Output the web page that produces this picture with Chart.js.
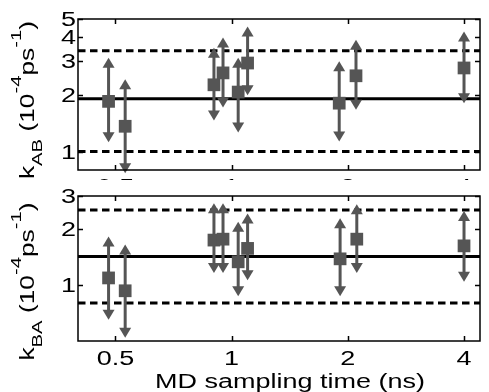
<!DOCTYPE html>
<html>
<head>
<meta charset="utf-8">
<script src="https://cdn.jsdelivr.net/npm/chart.js@4.4.0/dist/chart.umd.min.js"></script>
<style>
  body { margin: 0; background: #fff; }
  #wrap { position: relative; width: 489px; height: 392px; overflow: hidden; background: #fff; }
  canvas { position: absolute; left: 0; }
  #chartAB { top: 0; }
  #chartBA { top: 180px; }
</style>
</head>
<body>
<div id="wrap">
  <canvas id="chartAB" width="489" height="180"></canvas>
  <canvas id="chartBA" width="489" height="212"></canvas>
</div>
<script>
// sampling time (ns) - points of the same time are shifted a little sideways
const timeAB  = [0.48, 0.53, 0.9, 0.95, 1.04, 1.1, 1.9, 2.1, 4.0];
const kAB     = [1.84, 1.36, 2.25, 2.60, 2.06, 2.93, 1.80, 2.51, 2.76];
const kABLow  = [1.12, 0.77, 1.46, 1.71, 1.26, 1.98, 1.13, 1.66, 1.80];
const kABHigh = [3.12, 2.41, 3.53, 4.00, 3.12, 4.57, 2.99, 3.89, 4.30];

const timeBA  = [0.48, 0.53, 0.9, 0.95, 1.04, 1.1, 1.91, 2.11, 4.0];
const kBA     = [1.09, 0.93, 1.74, 1.76, 1.33, 1.57, 1.38, 1.76, 1.62];
const kBALow  = [0.65, 0.52, 1.16, 1.16, 0.87, 1.06, 0.87, 1.16, 1.04];
const kBAHigh = [1.82, 1.65, 2.74, 2.74, 2.18, 2.42, 2.28, 2.71, 2.49];

// reference lines: mean (solid), bounds (dashed)
const meanAB = 1.9;
const boundsAB = [1.0, 3.4];
const meanBA = 1.42;
const boundsBA = [0.8, 2.52];

const xTicks = [0.5, 1, 2, 4];
const yTicksAB = [1, 2, 3, 4, 5];
const yTicksBA = [1, 2, 3];
const xTitle = 'MD sampling time (ns)';

const STRETCH = 1.35;
const FONT = '"Liberation Sans", Arial, Helvetica, sans-serif';
const GREY = '#555555';

function stretchedText(ctx, str, x, y, size, align, baseline) {
  ctx.save();
  ctx.translate(x, y);
  ctx.scale(STRETCH, 1);
  ctx.font = size + 'px ' + FONT;
  ctx.textAlign = align;
  ctx.textBaseline = baseline;
  ctx.fillStyle = '#000';
  ctx.fillText(str, 0, 0);
  ctx.restore();
}

// rotated axis title with sub/superscripts
function richTitle(ctx, parts, baseX, centerY) {
  ctx.save();
  ctx.translate(baseX, centerY);
  ctx.rotate(-Math.PI / 2);
  ctx.scale(STRETCH, 1);
  ctx.fillStyle = '#000';
  ctx.textAlign = 'left';
  ctx.textBaseline = 'alphabetic';
  let total = 0;
  parts.forEach(p => {
    ctx.font = p.size + 'px ' + FONT;
    total += ctx.measureText(p.text).width;
  });
  let x = -total / 2;
  parts.forEach(p => {
    ctx.font = p.size + 'px ' + FONT;
    ctx.fillText(p.text, x, p.shift);
    x += ctx.measureText(p.text).width;
  });
  ctx.restore();
}

const panelPlugin = {
  id: 'panel',
  beforeDatasetsDraw(chart, args, opts) {
    const ctx = chart.ctx;
    const area = chart.chartArea;
    const xs = chart.scales.x, ys = chart.scales.y;

    // reference lines
    ctx.save();
    ctx.beginPath();
    ctx.rect(area.left, area.top, area.right - area.left, area.bottom - area.top);
    ctx.clip();
    ctx.strokeStyle = '#000';
    ctx.lineWidth = 3;
    let py = ys.getPixelForValue(opts.mean);
    ctx.beginPath(); ctx.moveTo(area.left, py); ctx.lineTo(area.right, py); ctx.stroke();
    ctx.setLineDash([7.5, 4.5]);
    opts.bounds.forEach(v => {
      const p = ys.getPixelForValue(v);
      ctx.beginPath(); ctx.moveTo(area.left, p); ctx.lineTo(area.right, p); ctx.stroke();
    });
    ctx.restore();

    // error bars with arrow heads
    ctx.save();
    ctx.strokeStyle = GREY;
    ctx.fillStyle = GREY;
    ctx.lineWidth = 3;
    chart.data.datasets[0].data.forEach(p => {
      const px = xs.getPixelForValue(p.x);
      const top = ys.getPixelForValue(p.hi);
      const bot = ys.getPixelForValue(p.lo);
      ctx.beginPath();
      ctx.moveTo(px, top + 8);
      ctx.lineTo(px, bot - 8);
      ctx.stroke();
      ctx.beginPath();
      ctx.moveTo(px, top); ctx.lineTo(px - 6, top + 10); ctx.lineTo(px + 6, top + 10);
      ctx.closePath(); ctx.fill();
      ctx.beginPath();
      ctx.moveTo(px, bot); ctx.lineTo(px - 6, bot - 10); ctx.lineTo(px + 6, bot - 10);
      ctx.closePath(); ctx.fill();
    });
    ctx.restore();
  },
  afterDatasetsDraw(chart, args, opts) {
    const ctx = chart.ctx;
    const a = chart.chartArea;
    const xs = chart.scales.x, ys = chart.scales.y;

    ctx.save();
    ctx.strokeStyle = '#000';
    ctx.lineWidth = 1.5;
    ctx.strokeRect(a.left, a.top, a.right - a.left, a.bottom - a.top);
    // inward ticks on all four sides
    ctx.beginPath();
    xTicks.forEach(v => {
      const px = Math.round(xs.getPixelForValue(v)) + 0.5;
      ctx.moveTo(px, a.bottom); ctx.lineTo(px, a.bottom - 5);
      ctx.moveTo(px, a.top); ctx.lineTo(px, a.top + 5);
    });
    opts.yTicks.forEach(v => {
      const py = Math.round(ys.getPixelForValue(v)) + 0.5;
      ctx.moveTo(a.left, py); ctx.lineTo(a.left + 5, py);
      ctx.moveTo(a.right, py); ctx.lineTo(a.right - 5, py);
    });
    ctx.stroke();
    ctx.restore();

    // tick labels
    opts.yTicks.forEach(v => {
      stretchedText(ctx, String(v), 76, ys.getPixelForValue(v) + 1.5, 20, 'right', 'middle');
    });
    xTicks.forEach(v => {
      stretchedText(ctx, String(v), xs.getPixelForValue(v), a.bottom + opts.xLabelGap, 20, 'center', 'middle');
    });
    if (opts.showXTitle) {
      stretchedText(ctx, xTitle, 290, a.bottom + 47, 20, 'center', 'alphabetic');
    }
    richTitle(ctx, opts.title, 33.5, opts.titleY);
  }
};

function titleParts(sub) {
  return [
    { text: 'k', size: 19.5, shift: 0 },
    { text: sub, size: 15, shift: 8 },
    { text: ' (10', size: 19.5, shift: 0 },
    { text: '-4', size: 15, shift: -13 },
    { text: 'ps', size: 19.5, shift: 0 },
    { text: '-1', size: 15, shift: -13 },
    { text: ')', size: 19.5, shift: 0 }
  ];
}

function makeChart(id, times, vals, lows, highs, cfg) {
  const points = times.map((t, i) => ({ x: t, y: vals[i], lo: lows[i], hi: highs[i] }));
  return new Chart(document.getElementById(id), {
    type: 'scatter',
    data: {
      datasets: [{
        data: points,
        pointStyle: 'rect',
        pointRadius: 9,
        pointHoverRadius: 9,
        backgroundColor: GREY,
        borderWidth: 0
      }]
    },
    options: {
      responsive: false,
      animation: false,
      devicePixelRatio: 1,
      layout: { padding: cfg.padding },
      plugins: {
        legend: { display: false },
        tooltip: { enabled: false },
        panel: cfg.panel
      },
      scales: {
        x: { type: 'logarithmic', display: false, min: 0.4, max: 4.4 },
        y: { type: 'logarithmic', display: false, min: cfg.yMin, max: cfg.yMax }
      }
    },
    plugins: [panelPlugin]
  });
}

makeChart('chartAB', timeAB, kAB, kABLow, kABHigh, {
  padding: { left: 78, right: 3, top: 19, bottom: 10 },
  yMin: 0.8, yMax: 5,
  panel: { mean: meanAB, bounds: boundsAB, yTicks: yTicksAB, xLabelGap: 17.5,
           showXTitle: false, title: titleParts('AB'), titleY: 100 }
});

makeChart('chartBA', timeBA, kBA, kBALow, kBAHigh, {
  padding: { left: 78, right: 3, top: 16, bottom: 51 },
  yMin: 0.5, yMax: 3,
  panel: { mean: meanBA, bounds: boundsBA, yTicks: yTicksBA, xLabelGap: 18.5,
           showXTitle: true, title: titleParts('BA'), titleY: 101.5 }
});
</script>
</body>
</html>
